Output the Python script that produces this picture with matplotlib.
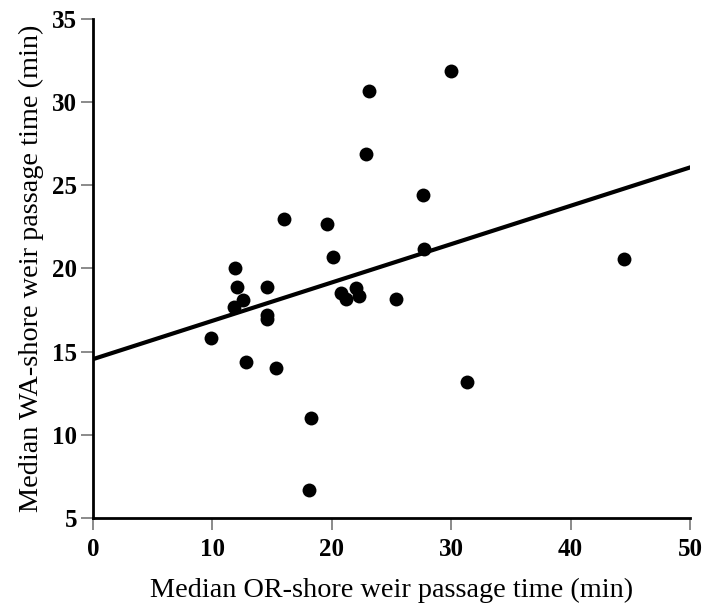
import matplotlib
matplotlib.use("Agg")
import matplotlib.pyplot as plt
import numpy as np

or_shore = [9.9, 11.9, 12.1, 11.8, 12.6, 12.8, 14.6, 14.6, 14.6, 15.3, 16.0,
            18.3, 18.1, 19.6, 20.1, 20.8, 21.2, 22.0, 22.3, 22.9, 23.1,
            25.4, 27.6, 27.7, 30.0, 31.3, 44.5]
wa_shore = [15.8, 20.0, 18.9, 17.7, 18.1, 14.35, 18.9, 17.2, 16.95, 14.0, 23.0,
            11.0, 6.7, 22.7, 20.7, 18.5, 18.15, 18.8, 18.35, 26.9, 30.7,
            18.15, 24.4, 21.2, 31.9, 13.15, 20.6]
fit_intercept = 14.55
fit_slope = 0.2305
x_ticks = [0, 10, 20, 30, 40, 50]
y_ticks = [5, 10, 15, 20, 25, 30, 35]

plt.rcParams['font.family'] = ['Liberation Serif', 'DejaVu Serif']

fig = plt.figure(figsize=(7.06, 6.05), dpi=100)
ax = fig.add_axes([0.1317, 0.1438, 0.8456, 0.8248])

ax.scatter(or_shore, wa_shore, s=100, color='black', zorder=3, linewidths=0)
xs = np.array([0, 50])
ax.plot(xs, fit_intercept + fit_slope * xs, color='black', lw=3, zorder=2)

ax.set_xlim(0, 50)
ax.set_ylim(5, 35)
ax.set_xticks(x_ticks)
ax.set_yticks(y_ticks)
ax.set_xticklabels([str(t) for t in x_ticks], fontsize=18, fontweight='bold')
ax.set_yticklabels([str(t) for t in y_ticks], fontsize=18, fontweight='bold')
ax.tick_params(axis='both', direction='out', length=8.5, width=1.2, color='#777777')
ax.tick_params(axis='x', pad=6)
ax.tick_params(axis='y', pad=3)

for s in ['top', 'right']:
    ax.spines[s].set_visible(False)
for s in ['left', 'bottom']:
    ax.spines[s].set_linewidth(2)

ax.set_xlabel('Median OR-shore weir passage time (min)', fontsize=20.3, labelpad=12)
ax.set_ylabel('Median WA-shore weir passage time (min)', fontsize=20.3, labelpad=6)

fig.savefig('out.png', dpi=100)
